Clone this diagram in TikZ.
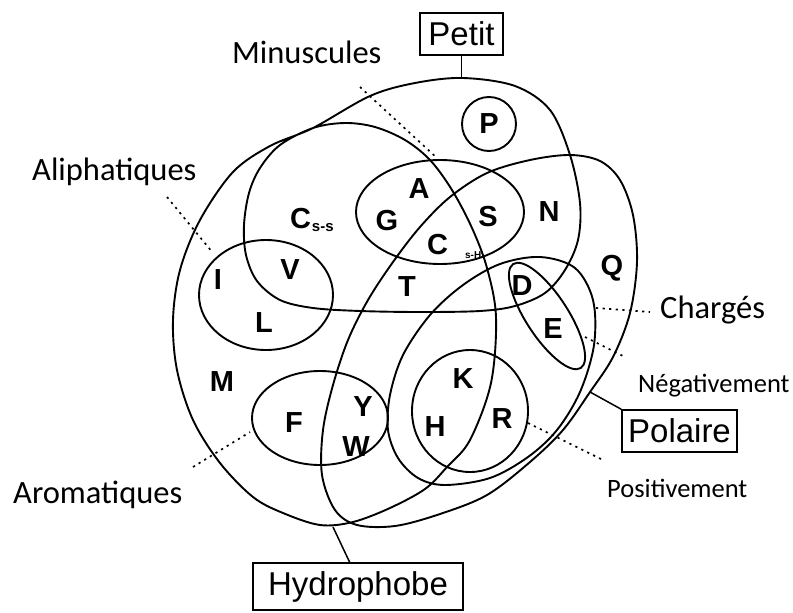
\documentclass[tikz,border=0pt]{standalone}
\usepackage{fontspec}
\setmainfont{Liberation Sans}
\newfontfamily\calib{Carlito}
\begin{document}
\begin{tikzpicture}[x=1pt,y=-1pt,
  setline/.style={line width=1.9pt, line join=round},
  lead/.style={line width=1.5pt},
  dotlead/.style={line width=1.7pt, dash pattern=on 2.2pt off 4.4pt},
  aa/.style={inner sep=0pt, font=\fontsize{29}{31}\selectfont\bfseries},
  lab/.style={inner sep=0pt, anchor=base west, font=\calib\fontsize{32.5}{34}\selectfont},
  sublab/.style={inner sep=0pt, anchor=base west, font=\calib\fontsize{26.5}{28}\selectfont},
  boxlab/.style={draw, line width=1.5pt, inner sep=0pt, font=\fontsize{33}{35}\selectfont}
]
\useasboundingbox (0,0) rectangle (793,613);

% Hydrophobe / Petit loop
\draw[setline] plot[smooth cycle, tension=0.55] coordinates {
 (345,123) (375,127) (405,140) (430,160) (452,190) (472,228) (487,268)
 (496,317) (491,383) (470,440) (447,467) (425,489) (390,508) (353,522)
 (320,525) (283,513) (253,497) (220,463) (193,420) (177,370) (173,320)
 (180,270) (200,220) (233,172) (270,146) (313,128) (370,96) (415,83)
 (463,78) (515,86) (550,110) (570,155) (580,203) (578,240) (565,270)
 (545,293) (515,306) (480,311) (420,312) (360,311) (313,308) (280,300)
 (257,281) (246,255) (244,225) (249,193) (260,168) (280,145) (313,128)};

% Polaire
\draw[setline] plot[smooth cycle, tension=0.55] coordinates {
 (487,173) (530,160) (570,155) (600,161) (620,180) (633,215) (637,262)
 (630,313) (613,357) (590,392) (563,430) (530,462) (487,495) (440,514)
 (395,526) (357,525) (335,510) (322,475) (323,430) (333,385) (348,340)
 (368,300) (393,262) (420,227) (450,197)};

% Charges
\draw[setline] plot[smooth cycle, tension=0.55] coordinates {
 (500,264) (540,257) (575,268) (593,300) (594,345) (580,392) (557,430)
 (528,457) (490,478) (445,485) (418,478) (398,458) (388,430) (390,395)
 (403,355) (430,315) (463,285)};

% subsets
\draw[setline] (489,124) circle [radius=27pt];
\draw[setline] (440,212) ellipse [x radius=84pt, y radius=52pt];
\draw[setline] (266,295) ellipse [x radius=67pt, y radius=55pt];
\draw[setline] (320,418) ellipse [x radius=68pt, y radius=47pt];
\draw[setline] (470,411) ellipse [x radius=58pt, y radius=61pt];
\draw[setline, rotate around={-57:(547,316)}] (547,316) ellipse [x radius=62pt, y radius=21pt];

% letters
\node[aa] (P) at (489,124) {P};
\node[aa, anchor=base west] (Css) at (290,228) {C\kern0.8pt\raisebox{-3pt}{\fontsize{15}{15}\selectfont s-s}};
\node[aa] (A) at (419,189) {A};
\node[aa] (G) at (387,221) {G};
\node[aa] (S) at (488,217) {S};
\node[aa] (N) at (549,212) {N};
\node[aa, anchor=base west] (CsH) at (427,254) {C\kern17pt\raisebox{-4pt}{\fontsize{10}{10}\selectfont s-H}};
\node[aa] (T) at (407,287) {T};
\node[aa] (I) at (218,280) {I};
\node[aa] (V) at (290,270) {V};
\node[aa] (L) at (264,323) {L};
\node[aa] (M) at (222,382) {M};
\node[aa] (F) at (294,423) {F};
\node[aa] (Y) at (363,407) {Y};
\node[aa] (W) at (356,447) {W};
\node[aa] (K) at (463,379) {K};
\node[aa] (H) at (435,427) {H};
\node[aa] (R) at (502,419) {R};
\node[aa] (D) at (522,286) {D};
\node[aa] (E) at (553,329) {E};
\node[aa] (Q) at (612,268) {Q};

% boxed labels
\node[boxlab, minimum width=83pt, minimum height=42pt] (petit) at (461.5,34) {Petit};
\node[boxlab, minimum width=115pt, minimum height=42pt] (polaire) at (679.5,431) {Polaire};
\node[boxlab, minimum width=210pt, minimum height=47pt] (hydro) at (358,586.5) {Hydrophobe};

\coordinate (petitFoot) at (461.5,78);
\coordinate (hydroFoot) at (333,527);
\coordinate (polarEdge) at (590,392);
\draw[lead] (petit) -- (petitFoot);
\draw[lead] (hydro.109) -- (hydroFoot);
\draw[lead] (polarEdge) -- (polaire.north west);

% annotation labels
\node[lab] (minus) at (232,63) {Minuscules};
\node[lab] (aliph) at (32,180) {Aliphatiques};
\node[lab] (arom) at (13,503) {Aromatiques};
\node[lab] (charg) at (660,318) {Chargés};
\node[sublab] (negat) at (638,392) {Négativement};
\node[sublab] (posit) at (607,497) {Positivement};

\coordinate (minA) at (360,87); \coordinate (minB) at (437,158);
\coordinate (aliA) at (167,197); \coordinate (aliB) at (213,253);
\coordinate (aroA) at (193,467); \coordinate (aroB) at (250,432);
\coordinate (chA) at (596,308); \coordinate (chB) at (650,312);
\coordinate (negA) at (585,337); \coordinate (negB) at (625,357);
\coordinate (posA) at (528,423); \coordinate (posB) at (603,460);
\draw[dotlead] (minA) -- (minB);
\draw[dotlead] (aliA) -- (aliB);
\draw[dotlead] (aroA) -- (aroB);
\draw[dotlead] (chA) -- (chB);
\draw[dotlead] (negA) -- (negB);
\draw[dotlead] (posA) -- (posB);
\end{tikzpicture}
\end{document}
